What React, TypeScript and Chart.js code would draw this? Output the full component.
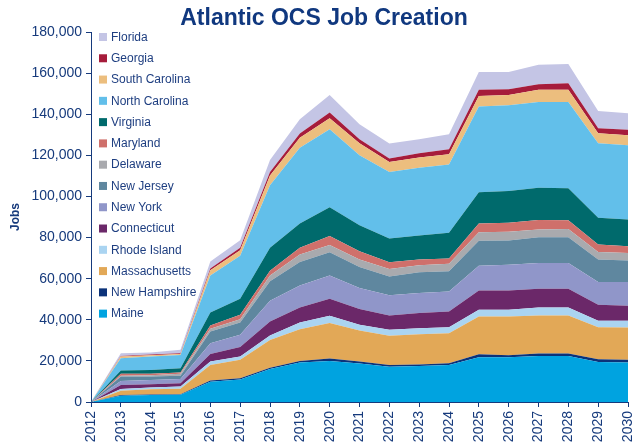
import React, { useEffect, useRef } from "react";
import { Chart, registerables } from "chart.js";

Chart.register(...registerables);

const years = ["2012","2013","2014","2015","2016","2017","2018","2019","2020","2021","2022","2023","2024","2025","2026","2027","2028","2029","2030"];

const maine = [0, 3100, 3400, 3500, 9900, 11000, 16000, 19200, 20000, 18700, 17200, 17500, 18000, 21800, 21800, 22400, 22400, 19400, 19200];
const newHampshire = [0, 300, 300, 300, 500, 600, 700, 800, 1200, 1000, 800, 800, 900, 1400, 1000, 1200, 1200, 1400, 1300];
const massachusetts = [0, 2100, 2500, 2600, 7600, 8900, 13500, 15400, 17200, 15100, 14200, 14700, 14600, 18400, 18800, 18500, 18500, 15600, 15800];
const rhodeIsland = [0, 800, 800, 1100, 1700, 1600, 2200, 3300, 3600, 2800, 2900, 2900, 2900, 3300, 3300, 3900, 3900, 3100, 3200];
const connecticut = [0, 2000, 1600, 1600, 3700, 4600, 6800, 7300, 8200, 7600, 7000, 7400, 7600, 9400, 9400, 9100, 9100, 7800, 7300];
const newYork = [0, 1900, 2100, 2100, 5200, 6000, 10100, 10700, 11400, 10200, 9800, 9700, 9800, 12000, 12500, 12500, 12500, 11100, 11600];
const newJersey = [0, 2200, 1700, 1600, 5700, 6000, 9400, 11400, 11200, 10300, 9200, 10100, 9800, 12200, 11800, 12600, 12600, 10900, 10400];
const delaware = [0, 400, 600, 900, 1300, 1600, 2800, 3600, 3600, 3600, 3600, 3400, 3600, 4100, 4200, 3700, 4000, 3700, 3700];
const maryland = [0, 900, 700, 600, 1600, 2100, 2400, 3300, 4300, 4000, 3300, 2800, 2600, 4200, 4400, 4600, 4200, 3600, 3300];
const virginia = [0, 1600, 1900, 2100, 6400, 7800, 11100, 11800, 14100, 12700, 11500, 11700, 12500, 15300, 15400, 15700, 15600, 13000, 13000];
const northCarolina = [0, 6000, 6500, 6500, 17900, 21000, 30500, 36900, 37900, 34000, 32400, 33000, 33300, 41600, 41800, 41800, 42000, 36300, 36100];
const southCarolina = [0, 800, 700, 500, 2600, 2600, 4700, 4900, 5300, 5900, 4900, 4900, 4900, 5200, 4900, 5900, 5900, 4800, 4900];
const georgia = [0, 300, 300, 300, 800, 1200, 1700, 2000, 2800, 1900, 1600, 2100, 2400, 3000, 2900, 2700, 3200, 2500, 2600];
const florida = [0, 1300, 1000, 1700, 3500, 3700, 5800, 7000, 8500, 7300, 7300, 6800, 7300, 8700, 8400, 9500, 9300, 8400, 8100];

const seriesNames = ["Maine","New Hampshire","Massachusetts","Rhode Island","Connecticut","New York","New Jersey","Delaware","Maryland","Virginia","North Carolina","South Carolina","Georgia","Florida"];
const seriesData = [maine, newHampshire, massachusetts, rhodeIsland, connecticut, newYork, newJersey, delaware, maryland, virginia, northCarolina, southCarolina, georgia, florida];
const seriesColors = ["#00A3E0","#0B3279","#E2A857","#AAD4F1","#6B2869","#9096C9","#5F879F","#A9AAAE","#CF706B","#006A6C","#62BFEA","#ECBE7E","#A61C3B","#C4C5E5"];

const yTicks = [0, 20000, 40000, 60000, 80000, 100000, 120000, 140000, 160000, 180000];

const NAVY = "#163A7C";
const FONT = "'Liberation Sans', Arial, sans-serif";

const overlayPlugin = {
  id: "overlay",
  afterDraw(chart: any) {
    const ctx = chart.ctx;
    ctx.save();
    ctx.fillStyle = "#10387F";
    ctx.font = `bold 23px ${FONT}`;
    ctx.textAlign = "center";
    ctx.textBaseline = "middle";
    ctx.fillText("Atlantic OCS Job Creation", 324, 19);
    ctx.font = `12px ${FONT}`;
    ctx.textAlign = "left";
    const n = seriesNames.length;
    for (let k = 0; k < n; k++) {
      const i = n - 1 - k;
      const y = 37 + k * 21.28;
      ctx.fillStyle = seriesColors[i];
      ctx.fillRect(99, y - 4, 8, 8);
      ctx.fillStyle = "#1E3E80";
      ctx.fillText(seriesNames[i], 111, y + 0.5);
    }
    ctx.restore();
  },
};

export default function App() {
  const ref = useRef<HTMLCanvasElement | null>(null);
  useEffect(() => {
    if (!ref.current) return;
    const chart = new Chart(ref.current, {
      type: "line",
      data: {
        labels: years,
        datasets: seriesData.map((d, i) => ({
          label: seriesNames[i],
          data: d,
          backgroundColor: seriesColors[i],
          borderColor: seriesColors[i],
          borderWidth: 0,
          pointRadius: 0,
          tension: 0,
          fill: i === 0 ? "origin" : "-1",
        })),
      },
      options: {
        animation: false,
        responsive: false,
        maintainAspectRatio: false,
        layout: { padding: { left: 0, right: 8, top: 32, bottom: 0 } },
        plugins: {
          legend: { display: false },
          title: { display: false },
          tooltip: { enabled: false },
        },
        scales: {
          x: {
            type: "category",
            offset: false,
            grid: { display: true, drawOnChartArea: false, drawTicks: true, tickLength: 5, color: NAVY },
            border: { display: true, color: NAVY, width: 1 },
            ticks: {
              color: NAVY,
              font: { family: FONT, size: 14 },
              maxRotation: 90,
              minRotation: 90,
              autoSkip: false,
              padding: 4,
            },
            afterFit: (s: any) => {
              s.height = 43;
              s.paddingLeft = 0;
              s.paddingRight = 0;
            },
          },
          y: {
            stacked: true,
            min: 0,
            max: 180000,
            afterBuildTicks: (s: any) => { s.ticks = yTicks.map((v) => ({ value: v })); },
            grid: { display: true, drawOnChartArea: false, drawTicks: true, tickLength: 5, color: NAVY },
            border: { display: true, color: NAVY, width: 1 },
            ticks: {
              color: NAVY,
              font: { family: FONT, size: 14 },
              padding: 4,
              callback: (v: any) => Number(v).toLocaleString("en-US"),
            },
            title: {
              display: true,
              text: "Jobs",
              color: NAVY,
              font: { family: FONT, size: 12, weight: "bold" },
              padding: { top: 8, bottom: 0 },
            },
            afterFit: (s: any) => {
              s.width = 91;
              s.paddingTop = 0;
              s.paddingBottom = 0;
            },
          },
        },
      },
      plugins: [overlayPlugin],
    });
    return () => chart.destroy();
  }, []);
  return (
    <div style={{ position: "fixed", left: 0, top: 0, width: 636, height: 445, background: "#fff" }}>
      <canvas ref={ref} width={636} height={445} style={{ width: 636, height: 445, display: "block" }} />
    </div>
  );
}
